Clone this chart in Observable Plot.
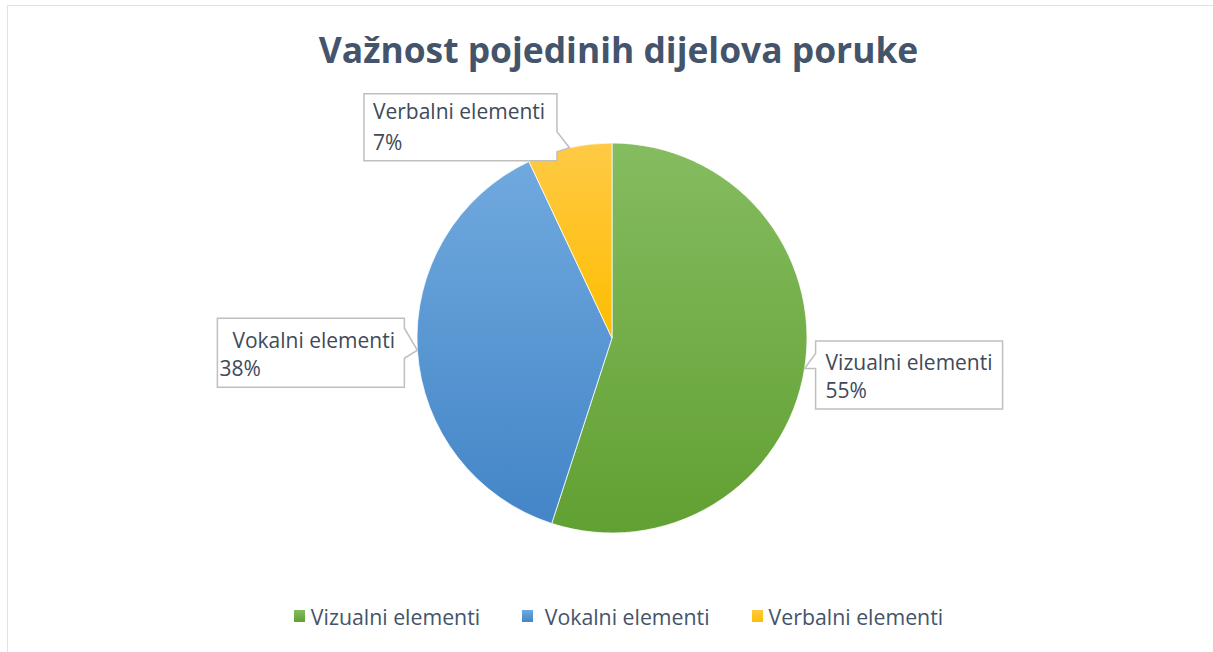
<!DOCTYPE html>
<html>
<head>
<meta charset="utf-8">
<script src="https://cdn.jsdelivr.net/npm/d3@7"></script>
<script src="https://cdn.jsdelivr.net/npm/@observablehq/plot@0.6"></script>
<style>
  html, body { margin: 0; padding: 0; background: #fff; }
  body { width: 1213px; height: 652px; overflow: hidden; position: relative; font-family: "Open Sans", sans-serif; }
  #frame { position: absolute; left: 7px; top: 5px; width: 1300px; height: 700px; border: 1px solid #dfe3e8; box-sizing: border-box; }
  #title { position: absolute; left: 12px; top: 0; width: 1213px; height: 80px; text-align: center; }
  #title span { position: absolute; left: 0; right: 0; top: 29px; font-weight: 700; font-size: 35.4px; color: #44546a; line-height: 40px; }
  #chart { position: absolute; left: 0; top: 80px; }
  #legend { position: absolute; left: 12px; top: 596px; width: 1213px; height: 40px; display: flex; justify-content: center; align-items: center; color: #44546a; font-size: 21.3px; }
  .item { display: flex; align-items: center; margin: 0 21px; }
  .sw { width: 11px; height: 12px; margin-right: 6px; }
</style>
</head>
<body>
<div id="frame"></div>
<div id="title"><span>Važnost pojedinih dijelova poruke</span></div>
<div id="chart"></div>
<div id="legend"></div>
<script>
// ---- data ----
const categories = ["Vizualni elementi", "Vokalni elementi", "Verbalni elementi"];
const values = [55, 38, 7];
const valueLabels = ["55%", "38%", "7%"];
const legendLabels = ["Vizualni elementi", " Vokalni elementi", "Verbalni elementi"];

// ---- styles / layout ----
const gradTop = ["#85bc60", "#70a9de", "#ffca45"];
const gradBottom = ["#61a032", "#4385c7", "#fdbd00"];
const W = 1213, H = 515;
const CX = 612, CY = 258, R = 195;   // pie centre in svg coords
// callout layout relative to the tip (arc point at mid angle)
const callouts = [
  {side: "left",  bx: 11,   by: -27.5, w: 187, h: 68, p0: -15, p1: 0,  t1x: 10, t2x: 10, t1y: 1,   t2y: 29},
  {side: "right", bx: -13,  by: -32,   w: 187, h: 69, p0: -22, p1: 8,  t1x: 15, t2x: 2,  t1y: -2,  t2y: 26},
  {side: "right", bx: -12.5,by: -54,   w: 193, h: 67, p0: -16, p1: 4,  t1x: 9,  t2x: 9,  t1y: -29, t2y: 2}
];

const pieMark = (index, scales, vals, dims, context) => {
  const g = d3.create("svg:g");
  const defs = g.append("defs");
  categories.forEach((c, i) => {
    const lg = defs.append("linearGradient").attr("id", "g" + i)
      .attr("x1", 0).attr("y1", 0).attr("x2", 0).attr("y2", 1);
    lg.append("stop").attr("offset", "0%").attr("stop-color", gradTop[i]);
    lg.append("stop").attr("offset", "100%").attr("stop-color", gradBottom[i]);
  });
  const arcs = d3.pie().sort(null).value((d, i) => values[i])(categories);
  const arc = d3.arc().innerRadius(0).outerRadius(R);
  const pg = g.append("g").attr("transform", `translate(${CX},${CY})`);
  pg.selectAll("path").data(arcs).join("path")
    .attr("d", arc)
    .attr("fill", (d, i) => `url(#g${i})`)
    .attr("stroke", "#fff").attr("stroke-width", 0.75);

  // callouts
  const lab = g.append("g").attr("font-size", 21).attr("fill", "#404a58").attr("text-anchor", "start");
  arcs.forEach((a, i) => {
    const m = (a.startAngle + a.endAngle) / 2;
    const tx = CX + R * Math.sin(m), ty = CY - R * Math.cos(m);
    const L = callouts[i];
    let x0, x1;
    if (L.side === "left") { x0 = tx + L.bx; x1 = x0 + L.w; }
    else { x1 = tx + L.bx; x0 = x1 - L.w; }
    const y0 = ty + L.by, y1 = y0 + L.h;
    let d;
    if (L.side === "left") {
      d = `M${x0},${y0}H${x1}V${y1}H${x0}V${ty + L.p1}L${tx},${ty}L${x0},${ty + L.p0}Z`;
    } else {
      d = `M${x0},${y0}H${x1}V${ty + L.p0}L${tx},${ty}L${x1},${ty + L.p1}V${y1}H${x0}Z`;
    }
    lab.append("path").attr("d", d).attr("fill", "#fff").attr("stroke", "#bfbfbf").attr("stroke-width", 1.5);
    lab.append("text").attr("x", x0 + L.t1x).attr("y", ty + L.t1y).text(categories[i]);
    lab.append("text").attr("x", x0 + L.t2x).attr("y", ty + L.t2y).text(valueLabels[i]);
  });
  return g.node();
};

const chart = Plot.plot({
  width: W, height: H, margin: 0,
  x: {axis: null, domain: [0, W]},
  y: {axis: null, domain: [0, H]},
  style: {background: "transparent", overflow: "visible", fontFamily: "'Open Sans', sans-serif"},
  marks: [pieMark]
});
document.getElementById("chart").appendChild(chart);

// legend
const leg = document.getElementById("legend");
categories.forEach((c, i) => {
  const it = document.createElement("div"); it.className = "item";
  const sw = document.createElement("div"); sw.className = "sw";
  sw.style.background = `linear-gradient(${gradTop[i]}, ${gradBottom[i]})`;
  const t = document.createElement("span"); t.textContent = legendLabels[i]; t.style.whiteSpace = "pre";
  it.appendChild(sw); it.appendChild(t); leg.appendChild(it);
});
</script>
</body>
</html>
